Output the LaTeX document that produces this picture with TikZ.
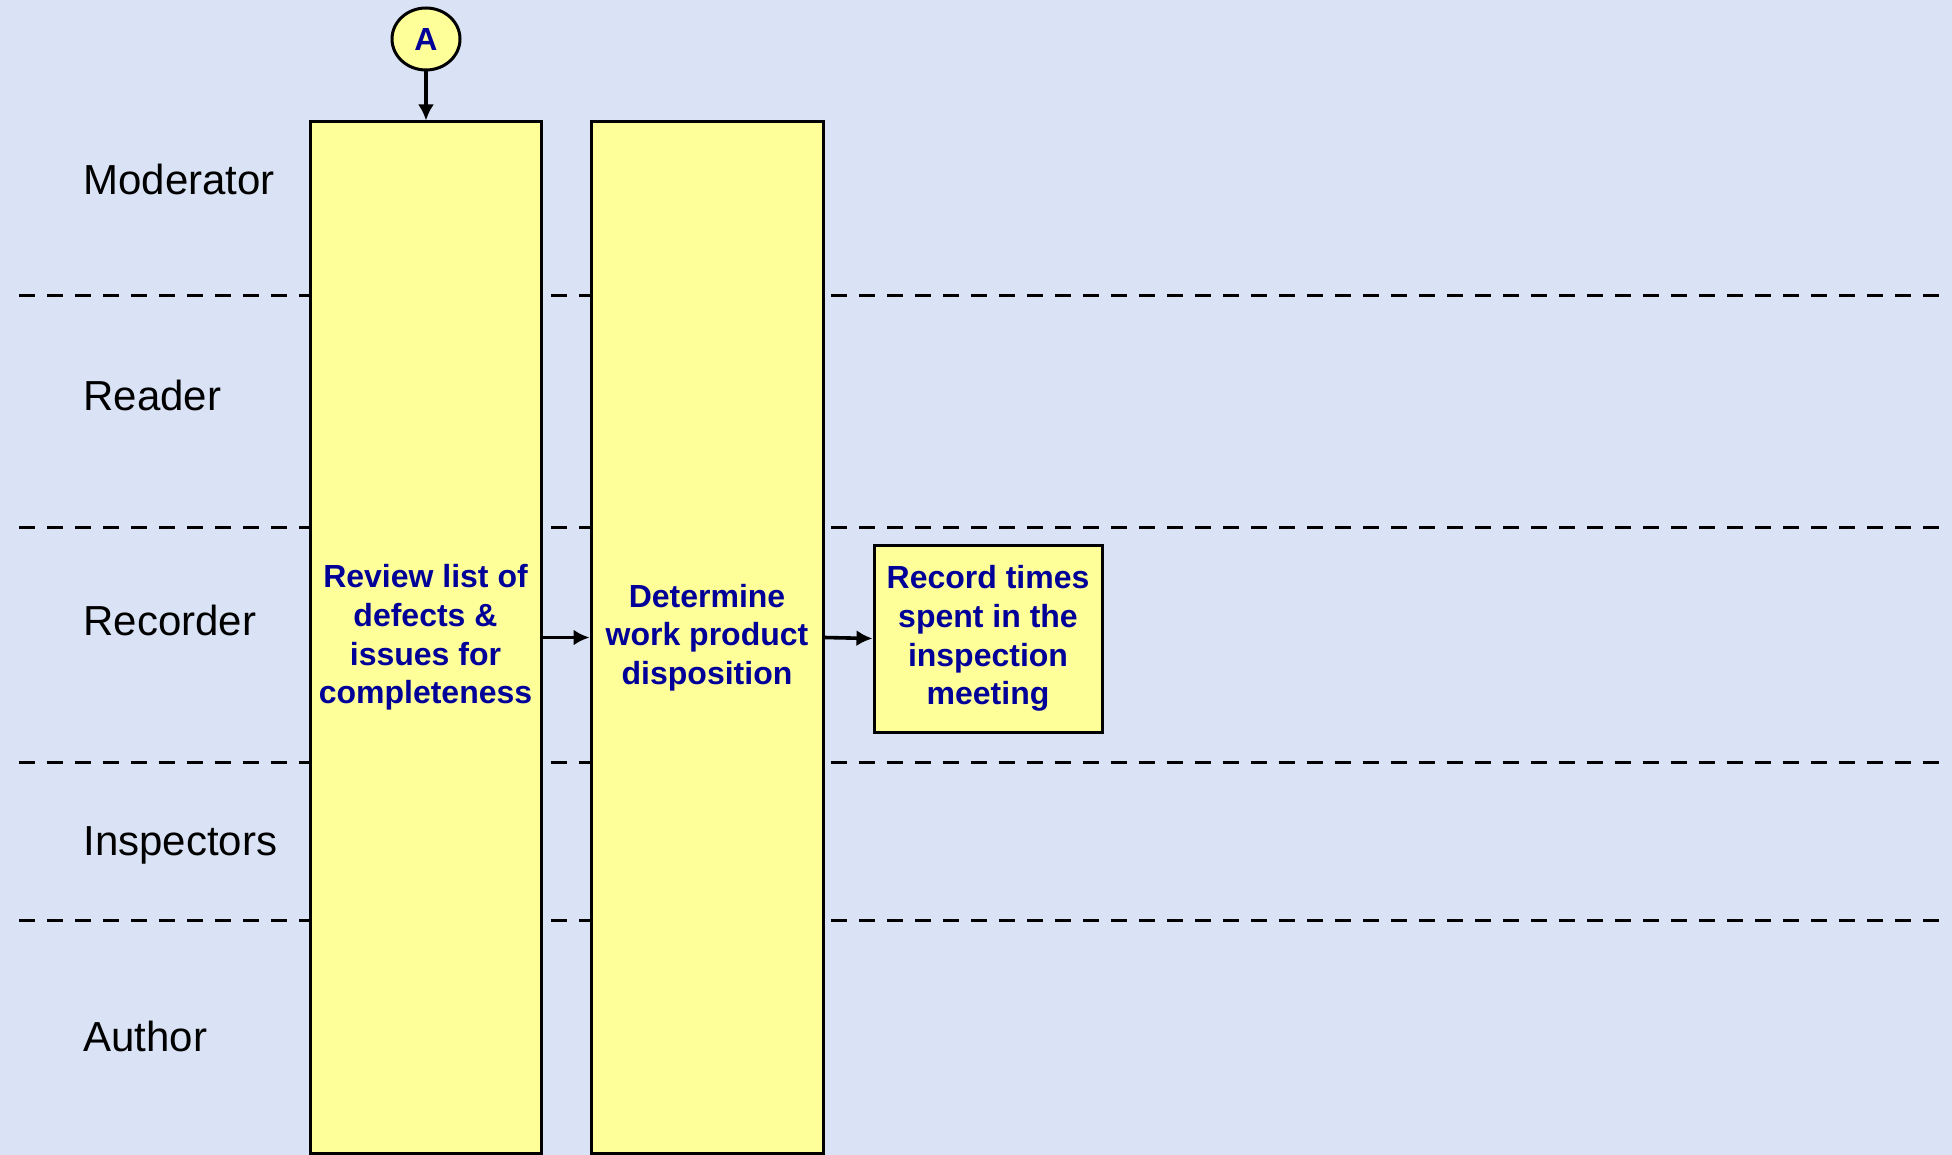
\documentclass[tikz,border=0pt]{standalone}
\usepackage{fontspec}
\setmainfont{Liberation Sans}
\usetikzlibrary{arrows.meta,shapes.geometric}
\definecolor{lanebg}{RGB}{217,227,245}
\definecolor{stepfill}{RGB}{255,255,153}
\definecolor{steptext}{RGB}{0,0,153}
\begin{document}
\begin{tikzpicture}[x=0.5pt, y=-0.5pt]
    \tikzstyle{lanesep}=[line width=1.5pt, dash pattern=on 8pt off 6pt]
    \tikzstyle{lanelabel}=[anchor=west, inner sep=0pt, font=\fontsize{21}{25}\selectfont]
    \tikzstyle{stepbox}=[draw, line width=1.5pt, fill=stepfill, text=steptext, inner sep=0pt, align=center,
        font=\fontsize{16}{19.3}\selectfont\bfseries]
    \tikzstyle{marrs}=[line width=1.8pt, -{Latex[length=8pt, width=8pt]}]

    \fill[lanebg] (0, 0) rectangle (1952, 1155);
    \useasboundingbox (0, 0) rectangle (1952, 1155);

    % swimlane separators
    \foreach \y in {295, 527, 762, 920} {
        \draw[lanesep] (19, \y) -- (1942, \y);
    }

    \foreach \name/\y in {Moderator/179, Reader/395, Recorder/620, Inspectors/845, Author/1036} {
        \node[lanelabel] (lbl\name) at (83, \y) {\name};
    }

    \node[stepbox, minimum width=115.5pt, minimum height=515.5pt] (review) at (425.5, 637.5)
        {Review list of\\defects \&\\issues for\\completeness};
    \node[stepbox, minimum width=116pt, minimum height=515.5pt] (dispo) at (707, 637.5)
        {Determine\\work product\\disposition};
    \node[stepbox, minimum width=114pt, minimum height=93.5pt] (record) at (988, 638.5)
        {Record times\\spent in the\\inspection\\meeting};

    \node[stepbox, ellipse, minimum width=34pt, minimum height=31pt] (conA) at (426, 39) {A};

    \draw[marrs] (conA.south) -- (conA.south |- review.north);
    \draw[marrs] (review.east) -- (dispo.west);
    \draw[marrs] (dispo.east) -- (record.west);

\end{tikzpicture}
\end{document}
